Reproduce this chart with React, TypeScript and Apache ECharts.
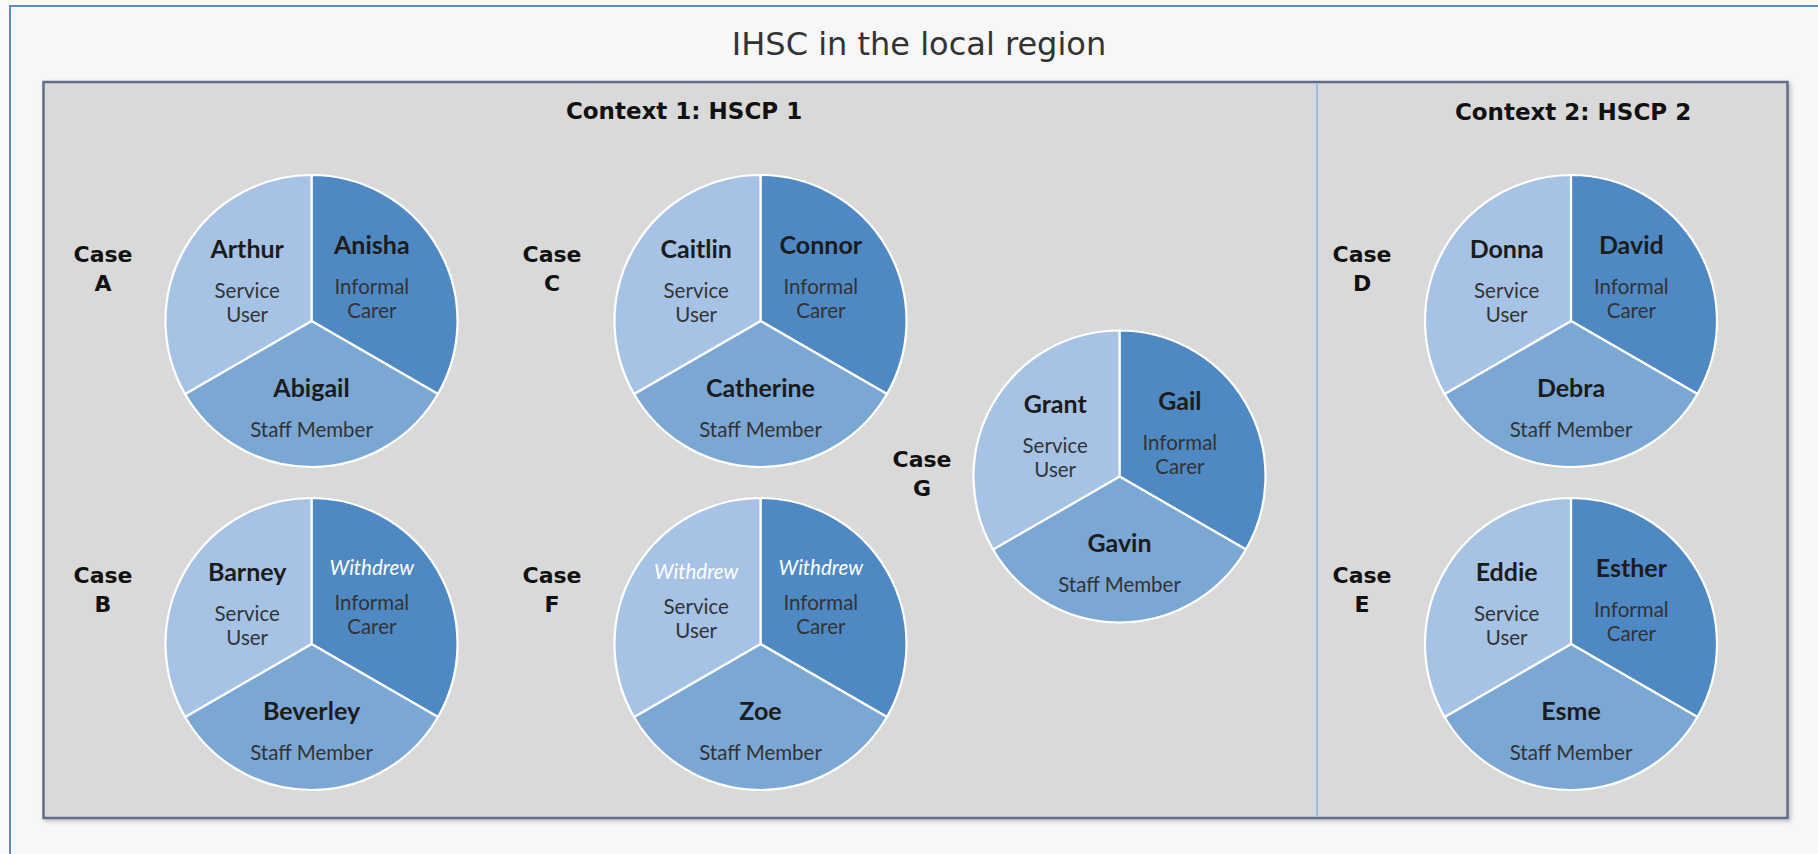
import React, { useEffect, useRef } from 'react';
import * as echarts from 'echarts';

// ---------- data ----------
const chartTitle = 'IHSC in the local region';
const contextTitles = ['Context 1: HSCP 1', 'Context 2: HSCP 2'];
const caseLetters = ['A', 'B', 'C', 'F', 'G', 'D', 'E'];
const serviceUsers = ['Arthur', 'Barney', 'Caitlin', 'Withdrew', 'Grant', 'Donna', 'Eddie'];
const informalCarers = ['Anisha', 'Withdrew', 'Connor', 'Withdrew', 'Gail', 'David', 'Esther'];
const staffMembers = ['Abigail', 'Beverley', 'Catherine', 'Zoe', 'Gavin', 'Debra', 'Esme'];
// slice order (clockwise from 12 o'clock): informal carer, staff member, service user
const roleLabels = ['Informal\nCarer', 'Staff Member', 'Service\nUser'];
const sliceShares = [1, 1, 1];

// ---------- layout / style ----------
const W = 1818;
const H = 854;
const pieCenters: [number, number][] = [
  [311.5, 321],
  [311.5, 644],
  [760.5, 321],
  [760.5, 644],
  [1119.5, 476.5],
  [1571, 321],
  [1571, 644],
];
const caseLabelOffsets: [number, number][] = [
  [-208.5, -52.5],
  [-208.5, -54],
  [-208.5, -52.5],
  [-208.5, -54],
  [-197.5, -3],
  [-209, -52.5],
  [-209, -54],
];
const contextTitlePos: [number, number][] = [
  [684, 111],
  [1573, 112],
];
const pieRadius = 146;
const sliceColors = ['#4f89c3', '#7ba7d4', '#a6c3e6'];
const labelShift: [number, number][] = [
  [-5.5, -15],
  [0, 1.5],
  [1.5, -11.5],
];

function textEl(text: string, x: number, y: number, font: any, extra: any = {}) {
  return {
    type: 'text',
    x,
    y,
    z: 10,
    silent: true,
    style: {
      text,
      fill: font.color,
      fontFamily: font.family,
      fontSize: font.size,
      fontWeight: font.weight || 'normal',
      align: 'center',
      verticalAlign: 'middle',
      textAlign: 'center',
      textVerticalAlign: 'middle',
      lineHeight: font.lineHeight,
      ...extra,
    },
  };
}

export default function App() {
  const ref = useRef<HTMLDivElement>(null);

  useEffect(() => {
    if (!ref.current) return;
    const chart = echarts.init(ref.current, undefined, { renderer: 'svg' });

    const rich = {
      n: {
        fontFamily: 'Lato',
        fontWeight: 'bold',
        fontSize: 25,
        color: '#1c1c1c',
        lineHeight: 60,
      },
      w: {
        fontFamily: 'Lato',
        fontStyle: 'italic',
        fontSize: 20.5,
        color: '#ffffff',
        lineHeight: 46,
      },
      r: {
        fontFamily: 'Lato',
        fontSize: 20.5,
        color: '#333333',
        lineHeight: 24,
      },
    };

    const series = caseLetters.map((c, i) => {
      const people = [informalCarers[i], staffMembers[i], serviceUsers[i]];
      return {
        type: 'pie',
        name: 'Case ' + c,
        center: pieCenters[i],
        radius: pieRadius,
        startAngle: 90,
        clockwise: true,
        silent: true,
        avoidLabelOverlap: false,
        emphasis: { disabled: true },
        itemStyle: { borderColor: '#ffffff', borderWidth: 2.2 },
        label: {
          show: true,
          position: 'inside',
          rich,
          formatter: (p: any) => {
            const key = p.name === 'Withdrew' ? 'w' : 'n';
            const roles = roleLabels[p.dataIndex]
              .split('\n')
              .map((l) => `{r|${l}}`)
              .join('\n');
            return `{${key}|${p.name}}\n${roles}`;
          },
        },
        labelLine: { show: false },
        labelLayout: (p: any) => ({
          dx: labelShift[p.dataIndex][0],
          dy: labelShift[p.dataIndex][1],
        }),
        data: people.map((name, k) => ({
          name,
          value: sliceShares[k],
          itemStyle: { color: sliceColors[k] },
        })),
      };
    });

    const caseFont = { family: 'DejaVu Sans', size: 22, weight: 'bold', color: '#111111', lineHeight: 29 };
    const ctxFont = { family: 'DejaVu Sans', size: 23, weight: 'bold', color: '#111111' };
    const titleFont = { family: 'DejaVu Sans', size: 32, weight: 'normal', color: '#333333' };

    const graphics: any[] = [
      {
        type: 'rect',
        z: 0,
        silent: true,
        shape: { x: 10, y: 6, width: W + 100, height: H + 100 },
        style: { fill: '#f7f7f7', stroke: '#5b8cc4', lineWidth: 2 },
      },
      {
        type: 'rect',
        z: 0,
        silent: true,
        shape: { x: 43.5, y: 82, width: 1744, height: 736 },
        style: {
          fill: '#d9d9d9',
          stroke: '#5f6f86',
          lineWidth: 2.5,
          shadowBlur: 4,
          shadowOffsetX: 2,
          shadowOffsetY: 2,
          shadowColor: 'rgba(0,0,0,0.25)',
        },
      },
      {
        type: 'line',
        z: 1,
        silent: true,
        shape: { x1: 1317, y1: 83.5, x2: 1317, y2: 816.5 },
        style: { stroke: '#9dbde0', lineWidth: 2 },
      },
      textEl(chartTitle, 919, 44, titleFont),
      ...contextTitles.map((t, i) => textEl(t, contextTitlePos[i][0], contextTitlePos[i][1], ctxFont)),
      ...caseLetters.map((c, i) =>
        textEl(
          'Case\n' + c,
          pieCenters[i][0] + caseLabelOffsets[i][0],
          pieCenters[i][1] + caseLabelOffsets[i][1],
          caseFont
        )
      ),
    ];

    chart.setOption({
      animation: false,
      backgroundColor: '#f9f9f9',
      graphic: { elements: graphics },
      series,
    });

    return () => chart.dispose();
  }, []);

  return (
    <div
      ref={ref}
      style={{ position: 'fixed', left: 0, top: 0, width: W, height: H }}
    />
  );
}
